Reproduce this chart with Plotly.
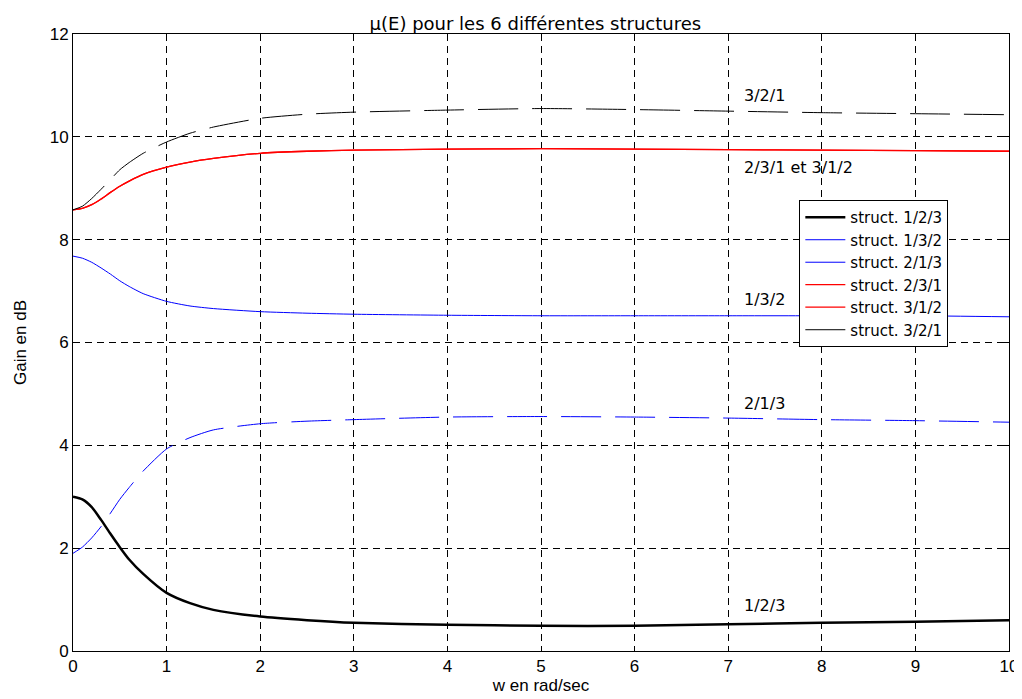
import plotly.graph_objects as go

# frequency grid (rad/sec)
w = [0, 0.1, 0.2, 0.3, 0.4, 0.5, 0.6, 0.75, 1, 1.25, 1.5, 2, 2.5, 3, 4, 5, 6, 7, 8, 9, 10]

# gain in dB for each structure
s123 = [3.0, 2.95, 2.8, 2.55, 2.28, 2.02, 1.78, 1.5, 1.13, 0.93, 0.80, 0.67, 0.60, 0.55, 0.51, 0.49, 0.49, 0.52, 0.55, 0.57, 0.60]
s132 = [7.68, 7.64, 7.56, 7.45, 7.33, 7.2, 7.09, 6.95, 6.8, 6.71, 6.66, 6.6, 6.57, 6.55, 6.53, 6.52, 6.52, 6.52, 6.52, 6.52, 6.5]
s213 = [1.9, 2.02, 2.2, 2.42, 2.68, 2.95, 3.18, 3.5, 3.93, 4.15, 4.3, 4.42, 4.47, 4.5, 4.55, 4.56, 4.55, 4.53, 4.5, 4.48, 4.45]
s231 = [8.58, 8.61, 8.68, 8.79, 8.92, 9.04, 9.14, 9.27, 9.41, 9.51, 9.58, 9.68, 9.72, 9.74, 9.76, 9.77, 9.76, 9.75, 9.74, 9.73, 9.72]
s312 = [8.58, 8.61, 8.68, 8.79, 8.92, 9.04, 9.14, 9.27, 9.41, 9.51, 9.58, 9.68, 9.72, 9.74, 9.76, 9.77, 9.76, 9.75, 9.74, 9.73, 9.72]
s321 = [8.58, 8.65, 8.8, 8.98, 9.17, 9.36, 9.5, 9.68, 9.9, 10.07, 10.19, 10.36, 10.44, 10.48, 10.52, 10.55, 10.53, 10.5, 10.47, 10.45, 10.43]

names = ["struct. 1/2/3", "struct. 1/3/2", "struct. 2/1/3",
         "struct. 2/3/1", "struct. 3/1/2", "struct. 3/2/1"]
series = [s123, s132, s213, s231, s312, s321]
colors = ["black", "blue", "blue", "red", "red", "black"]
widths = [2.5, 1, 1, 1.3, 1.3, 1]
dashes = ["solid", "solid", "40px,14px", "solid", "solid", "40px,14px"]

# curve labels
lab_text = ["3/2/1", "2/3/1 et 3/1/2", "1/3/2", "2/1/3", "1/2/3"]
lab_x = [7.15, 7.15, 7.15, 7.15, 7.15]
lab_y = [10.8, 9.4, 6.83, 4.82, 0.88]

fig = go.Figure()
for i in range(len(series)):
    fig.add_trace(go.Scatter(x=w, y=series[i], mode="lines", showlegend=False,
                             line=dict(color=colors[i], width=widths[i], dash=dashes[i],
                                       shape="spline", smoothing=0.6)))
# legend entries drawn solid, like the original
for i in range(len(series)):
    fig.add_trace(go.Scatter(x=[None], y=[None], mode="lines", name=names[i],
                             line=dict(color=colors[i], width=widths[i])))

for t, x, y in zip(lab_text, lab_x, lab_y):
    fig.add_annotation(x=x, y=y, text=t, showarrow=False, xanchor="left",
                       font=dict(family="DejaVu Sans, sans-serif", size=16, color="black"))

axis_style = dict(showgrid=True, gridcolor="black", gridwidth=1, griddash="7px,5px",
                  zeroline=False, showline=True, linecolor="black", linewidth=1,
                  mirror="allticks", ticks="inside", ticklen=5, tickcolor="black",
                  tickfont=dict(size=17, color="black"))

fig.update_xaxes(range=[0, 10], dtick=1, title=dict(text="w en rad/sec", standoff=2,
                 font=dict(size=17, color="black")), **axis_style)
fig.update_yaxes(range=[0, 12], dtick=2, title=dict(text="Gain en dB", standoff=18,
                 font=dict(size=17, color="black")), **axis_style)

# page body adds 8px offset, margins compensate so plot area sits at x 71-1010, y 34-651
fig.update_layout(
    width=1022, height=699,
    margin=dict(l=63, r=20, t=26, b=56),
    paper_bgcolor="white", plot_bgcolor="white",
    font=dict(family="Liberation Sans, Arial, sans-serif", color="black"),
    title=dict(text="µ(E) pour les 6 différentes structures", x=0.516, xanchor="center",
               y=0.977, yanchor="middle",
               font=dict(family="DejaVu Sans, sans-serif", size=18, color="black")),
    legend=dict(x=0.776, y=0.731, xanchor="left", yanchor="top",
                bgcolor="white", bordercolor="black", borderwidth=1,
                font=dict(family="DejaVu Sans, sans-serif", size=15, color="black"),
                tracegroupgap=0, itemwidth=40),
)

fig.write_html("out.html")
